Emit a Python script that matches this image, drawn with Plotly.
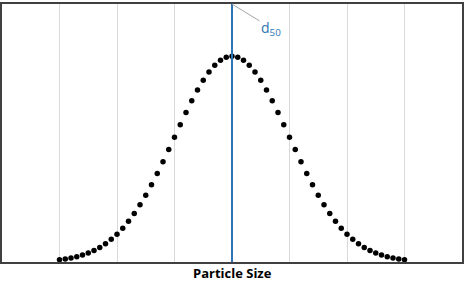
import plotly.graph_objects as go

# Particle size (arbitrary units) and frequency
particle_size = [1.0, 1.1, 1.2, 1.3, 1.4, 1.5, 1.6, 1.7, 1.8, 1.9,
                 2.0, 2.1, 2.2, 2.3, 2.4, 2.5, 2.6, 2.7, 2.8, 2.9,
                 3.0, 3.1, 3.2, 3.3, 3.4, 3.5, 3.6, 3.7, 3.8, 3.9,
                 4.0, 4.1, 4.2, 4.3, 4.4, 4.5, 4.6, 4.7, 4.8, 4.9,
                 5.0, 5.1, 5.2, 5.3, 5.4, 5.5, 5.6, 5.7, 5.8, 5.9,
                 6.0, 6.1, 6.2, 6.3, 6.4, 6.5, 6.6, 6.7, 6.8, 6.9, 7.0]
frequency = [0.0044, 0.0060, 0.0079, 0.0104, 0.0136, 0.0175, 0.0224, 0.0283, 0.0355, 0.0440,
             0.0540, 0.0656, 0.0790, 0.0940, 0.1109, 0.1295, 0.1497, 0.1714, 0.1942, 0.2179,
             0.2420, 0.2661, 0.2897, 0.3123, 0.3332, 0.3521, 0.3683, 0.3814, 0.3910, 0.3970,
             0.3989,
             0.3970, 0.3910, 0.3814, 0.3683, 0.3521, 0.3332, 0.3123, 0.2897, 0.2661, 0.2420,
             0.2179, 0.1942, 0.1714, 0.1497, 0.1295, 0.1109, 0.0940, 0.0790, 0.0656, 0.0540,
             0.0440, 0.0355, 0.0283, 0.0224, 0.0175, 0.0136, 0.0104, 0.0079, 0.0060, 0.0044]
grid_ticks = [1, 2, 3, 4, 5, 6, 7]
d50_value = 4.0
x_range = [0, 8]
y_range = [0, 0.5]

fig = go.Figure()
fig.add_trace(go.Scatter(
    x=particle_size, y=frequency, mode="markers",
    marker=dict(color="black", size=5.5),
    hoverinfo="skip", showlegend=False,
))
fig.add_trace(go.Scatter(
    x=[d50_value, d50_value], y=y_range, mode="lines",
    line=dict(color="#2E75B6", width=2),
    hoverinfo="skip", showlegend=False,
))

fig.add_annotation(
    x=d50_value, y=y_range[1], xref="x", yref="y",
    text="d<sub>50</sub>", showarrow=True, arrowhead=0,
    arrowwidth=1, arrowcolor="#A6A6A6", ax=39, ay=24,
    font=dict(family="Open Sans, sans-serif", size=14, color="#2E75B6"),
    standoff=0,
)
fig.add_annotation(
    x=0.5, y=0, xref="paper", yref="paper", yanchor="top", yshift=-1,
    text="<b>Particle Size</b>", showarrow=False, borderpad=0,
    font=dict(family="Open Sans, sans-serif", size=13, color="black"),
)

fig.update_layout(
    width=466, height=281,
    margin=dict(l=2, r=2, t=2, b=19),
    paper_bgcolor="white", plot_bgcolor="white",
    xaxis=dict(range=x_range, tickvals=grid_ticks, showticklabels=False,
               showgrid=True, gridcolor="#D9D9D9", gridwidth=1,
               zeroline=False, showline=True, linecolor="#404040", linewidth=2,
               mirror=True, ticks=""),
    yaxis=dict(range=y_range, showticklabels=False, showgrid=False,
               zeroline=False, showline=True, linecolor="#404040", linewidth=2,
               mirror=True, ticks=""),
)

fig.write_html("out.html")
